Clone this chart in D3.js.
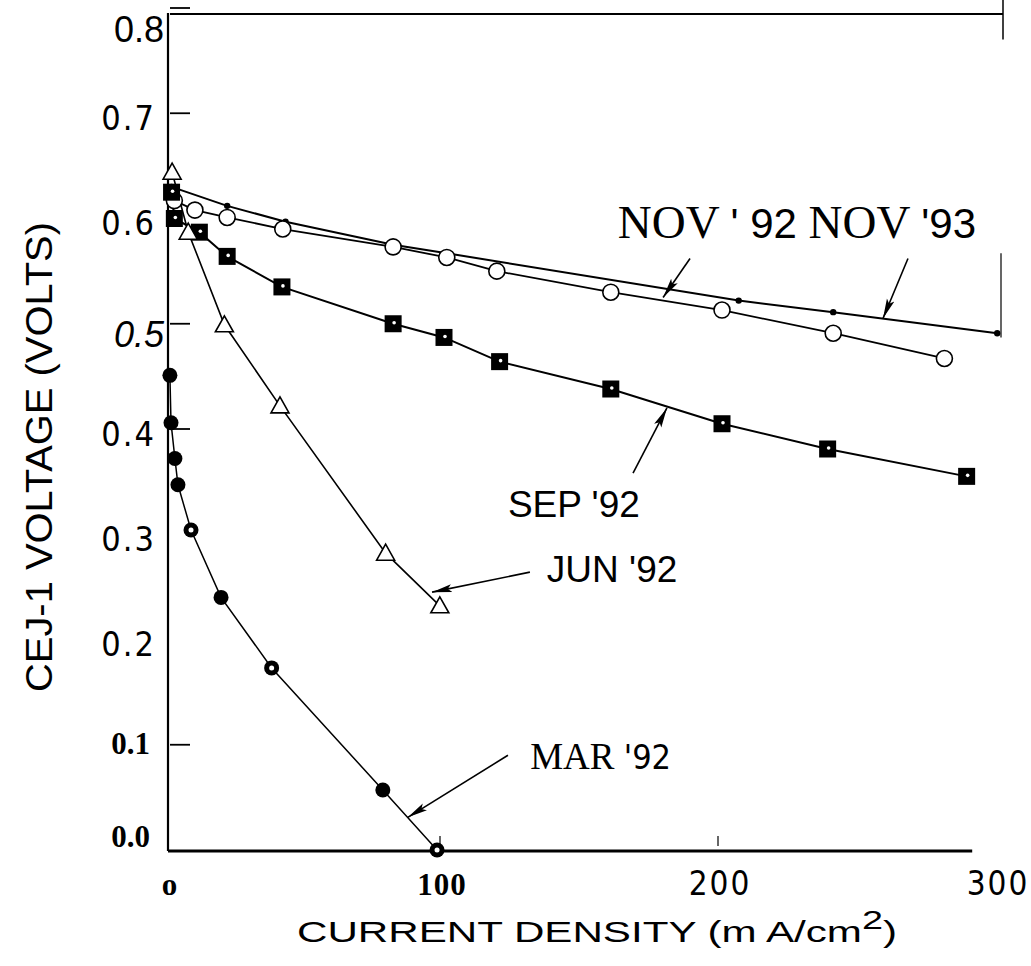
<!DOCTYPE html>
<html>
<head>
<meta charset="utf-8">
<script src="https://cdn.jsdelivr.net/npm/d3@7"></script>
<style>
  body { margin: 0; background: #fff; }
  svg { display: block; }
</style>
</head>
<body>
<div id="chart"></div>
<script>
// data (x = mA/cm2, y = volts)
var marX  = [1.4, 1.8, 3.2, 4.3, 9, 19.8, 38, 78, 97.5];
var marY  = [0.451, 0.406, 0.372, 0.347, 0.304, 0.240, 0.173, 0.057, 0.0];

var junX  = [2.2, 8, 21, 41, 79, 98.5];
var junY  = [0.644, 0.587, 0.499, 0.422, 0.282, 0.232];

var sepX  = [2, 3, 12, 22, 41.7, 81.7, 100, 120, 160, 200, 238, 288];
var sepY  = [0.625, 0.600, 0.587, 0.564, 0.535, 0.500, 0.487, 0.464, 0.438, 0.405, 0.381, 0.355];

var nov92X = [3, 10.4, 22, 42, 81.7, 101, 119, 160, 200, 240, 280];
var nov92Y = [0.617, 0.608, 0.601, 0.590, 0.573, 0.563, 0.550, 0.530, 0.513, 0.491, 0.467];

var nov93X = [2, 22, 43, 81.7, 101, 206, 240, 299];
var nov93Y = [0.630, 0.612, 0.597, 0.575, 0.567, 0.522, 0.511, 0.491];

var yTicks = [0.0, 0.1, 0.2, 0.3, 0.4, 0.5, 0.6, 0.7, 0.8];
var yTickMarks = [0.1, 0.4, 0.5, 0.7, 0.8];
var xTicks = [0, 100, 200, 300];
var xTickLabels = ["o", "100", "200", "300"];
var xTickMarks = [100, 200];

var W = 1031, H = 966;
var svg = d3.select("#chart").append("svg").attr("width", W).attr("height", H);

var x = d3.scaleLinear().domain([0, 300]).range([166, 1000]);
var y = d3.scaleLinear().domain([0, 0.8]).range([850, 8]);

var zip = function (xs, ys) { return xs.map(function (d, i) { return [d, ys[i]]; }); };
var line = d3.line().x(function (d) { return x(d[0]); }).y(function (d) { return y(d[1]); });

// arrow head
svg.append("defs").append("marker")
  .attr("id", "head").attr("viewBox", "0 0 20 10")
  .attr("refX", 20).attr("refY", 5)
  .attr("markerWidth", 20).attr("markerHeight", 10)
  .attr("markerUnits", "userSpaceOnUse")
  .attr("orient", "auto")
  .append("path").attr("d", "M0,1 L20,5 L0,9 L4,5 Z").attr("fill", "#000");

// frame
var frame = svg.append("g").attr("stroke", "#000").attr("fill", "none");
frame.append("line").attr("x1", x(0) + 2).attr("x2", x(0) + 2).attr("y1", y(0) + 1).attr("y2", y(0.8) + 5).attr("stroke-width", 2.2);
frame.append("line").attr("x1", x(0) + 4).attr("x2", x(300) + 3).attr("y1", y(0.8) + 6).attr("y2", y(0.8) + 6).attr("stroke-width", 2.2);
frame.append("line").attr("x1", x(0) + 2).attr("x2", x(290)).attr("y1", y(0) + 1).attr("y2", y(0) + 1).attr("stroke-width", 3);
frame.append("line").attr("x1", x(300) + 3).attr("x2", x(300) + 3).attr("y1", 0).attr("y2", y(0.77)).attr("stroke-width", 1.5);
frame.append("line").attr("x1", x(300) + 1).attr("x2", x(300) + 1).attr("y1", y(0.567)).attr("y2", y(0.487)).attr("stroke-width", 1.2);

// inward ticks
frame.selectAll(".yt").data(yTickMarks).enter().append("line")
  .attr("x1", x(0) + 4).attr("x2", x(0) + 24)
  .attr("y1", function (d) { return y(d); }).attr("y2", function (d) { return y(d); })
  .attr("stroke-width", 1.8);
frame.selectAll(".xt").data(xTickMarks).enter().append("line")
  .attr("x1", function (d) { return x(d) - 4; }).attr("x2", function (d) { return x(d) - 4; })
  .attr("y1", y(0) - 14).attr("y2", y(0) - 4)
  .attr("stroke-width", 1.2);

// y tick labels (mixed typefaces like the scan)
var yLabelStyle = function (d) {
  if (d === 0.8) return { f: "Liberation Sans", s: 36, w: "normal", st: "normal", dy: 24 };
  if (d === 0.5) return { f: "Liberation Sans", s: 36, w: "normal", st: "italic", dy: 14 };
  if (d <= 0.1) return { f: "Liberation Serif", s: 31, w: "bold", st: "normal", dy: d === 0 ? -10 : 2 };
  return { f: "DejaVu Sans Condensed", s: 34, w: "200", st: "normal", dy: 7 };
};
svg.selectAll(".ylab").data(yTicks).enter().append("text")
  .attr("x", function (d) { return d <= 0.1 ? 150 : (d === 0.8 || d === 0.5 ? 164 : 156); })
  .attr("y", function (d) { return y(d) + yLabelStyle(d).dy; })
  .attr("text-anchor", "end")
  .attr("dominant-baseline", "middle")
  .style("font-family", function (d) { return yLabelStyle(d).f; })
  .style("font-size", function (d) { return yLabelStyle(d).s + "px"; })
  .style("font-weight", function (d) { return yLabelStyle(d).w; })
  .style("font-style", function (d) { return yLabelStyle(d).st; })
  .style("font-stretch", "condensed")
  .style("letter-spacing", function (d) { return (d >= 0.2 && d !== 0.5 && d !== 0.8) ? "2px" : "0px"; })
  .text(function (d) { return d.toFixed(1); });

// x tick labels
svg.selectAll(".xlab").data(xTicks).enter().append("text")
  .attr("x", function (d) { return x(d) + (d === 0 ? 4 : -2); })
  .attr("y", 895)
  .attr("text-anchor", "middle")
  .style("font-family", function (d) { return d <= 100 ? "Liberation Serif" : "DejaVu Sans Condensed"; })
  .style("font-weight", function (d) { return d <= 100 ? "bold" : "200"; })
  .style("font-size", function (d) { return d <= 100 ? "31px" : "33px"; })
  .style("letter-spacing", function (d) { return d > 100 ? "2px" : "1px"; })
  .text(function (d, i) { return xTickLabels[i]; });

// axis titles
var xt = svg.append("text").attr("x", 297).attr("y", 942)
  .style("font-family", "Liberation Sans").style("font-size", "29px").style("font-weight", "normal")
  .attr("textLength", 600).attr("lengthAdjust", "spacingAndGlyphs");
xt.append("tspan").text("CURRENT DENSITY (m A/cm");
xt.append("tspan").attr("dy", -13).style("font-size", "26px").text("2");
xt.append("tspan").attr("dy", 13).text(")");

svg.append("text")
  .attr("transform", "translate(52,457) rotate(-90)")
  .attr("text-anchor", "middle")
  .style("font-family", "Liberation Sans").style("font-size", "37px")
  .attr("textLength", 470).attr("lengthAdjust", "spacingAndGlyphs")
  .text("CEJ-1 VOLTAGE (VOLTS)");

// series lines
var series = [
  { d: zip(nov93X, nov93Y), w: 2 },
  { d: zip(nov92X, nov92Y), w: 1.8 },
  { d: zip(sepX, sepY), w: 2 },
  { d: zip(junX, junY), w: 1.6 },
  { d: zip(marX, marY), w: 1.5 }
];
svg.selectAll(".ser").data(series).enter().append("path")
  .attr("d", function (s) { return line(s.d); })
  .attr("fill", "none").attr("stroke", "#000")
  .attr("stroke-width", function (s) { return s.w; });

// markers
var mk = svg.append("g");
mk.selectAll(".m93").data(zip(nov93X, nov93Y)).enter().append("circle")
  .attr("cx", function (d) { return x(d[0]); }).attr("cy", function (d) { return y(d[1]); })
  .attr("r", 3.2).attr("fill", "#000");

mk.selectAll(".m92").data(zip(nov92X, nov92Y)).enter().append("circle")
  .attr("cx", function (d) { return x(d[0]); }).attr("cy", function (d) { return y(d[1]); })
  .attr("r", 8).attr("fill", "#fff").attr("stroke", "#000").attr("stroke-width", 1.6);

var sq = mk.selectAll(".msep").data(zip(sepX, sepY)).enter().append("g")
  .attr("transform", function (d) { return "translate(" + x(d[0]) + "," + y(d[1]) + ")"; });
sq.append("rect").attr("x", -8.5).attr("y", -8.5).attr("width", 17).attr("height", 17).attr("fill", "#000");
sq.append("circle").attr("r", 1.8).attr("cx", 1).attr("cy", -1).attr("fill", "#fff");

mk.selectAll(".mjun").data(zip(junX, junY)).enter().append("path")
  .attr("transform", function (d) { return "translate(" + x(d[0]) + "," + y(d[1]) + ")"; })
  .attr("d", "M0,-9 L9,7 L-9,7 Z")
  .attr("fill", "#fff").attr("stroke", "#000").attr("stroke-width", 1.6);

var mc = mk.selectAll(".mmar").data(zip(marX, marY)).enter().append("g")
  .attr("transform", function (d) { return "translate(" + x(d[0]) + "," + y(d[1]) + ")"; });
mc.append("circle").attr("r", 7.5).attr("fill", "#000");
mc.filter(function (d, i) { return i === 4 || i === 6 || i === 8; })
  .append("circle").attr("r", 2.5).attr("fill", "#fff");

// annotations (positions in data units)
var arrows = [
  [[188.5, 0.562], [178.8, 0.525]],
  [[266.9, 0.562], [257.9, 0.505]],
  [[168, 0.358], [180.2, 0.420]],
  [[130.9, 0.264], [95.7, 0.245]],
  [[123, 0.090], [87, 0.031]]
];
svg.selectAll(".arr").data(arrows).enter().append("line")
  .attr("x1", function (a) { return x(a[0][0]); }).attr("y1", function (a) { return y(a[0][1]); })
  .attr("x2", function (a) { return x(a[1][0]); }).attr("y2", function (a) { return y(a[1][1]); })
  .attr("stroke", "#000").attr("stroke-width", 1.6)
  .attr("marker-end", "url(#head)");

var nov = svg.append("text").attr("x", x(162.5)).attr("y", y(0.581))
  .style("font-size", "47px");
nov.append("tspan").style("font-family", "Liberation Serif").text("NOV ");
nov.append("tspan").style("font-family", "Liberation Sans").style("font-size", "42px").text("' 92 ");
nov.append("tspan").style("font-family", "Liberation Serif").text("NOV ");
nov.append("tspan").style("font-family", "Liberation Sans").style("font-size", "42px").text("'93");

svg.append("text").attr("x", x(123)).attr("y", y(0.316))
  .style("font-family", "Liberation Sans").style("font-size", "37px")
  .text("SEP '92");
svg.append("text").attr("x", x(137)).attr("y", y(0.255))
  .style("font-family", "Liberation Sans").style("font-size", "37px")
  .text("JUN '92");
var mar = svg.append("text").attr("x", x(131)).attr("y", y(0.077))
  .style("font-size", "37px");
mar.append("tspan").style("font-family", "Liberation Serif").text("MAR ");
mar.append("tspan").style("font-family", "DejaVu Sans Condensed").style("font-weight", "200").style("font-size", "34px").text("'92");
</script>
</body>
</html>
